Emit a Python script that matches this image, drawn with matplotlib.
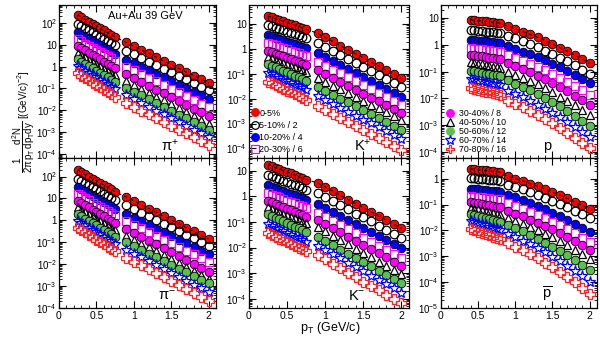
import numpy as np
import matplotlib
matplotlib.use('Agg')
import matplotlib.pyplot as plt
from matplotlib.ticker import LogLocator, FixedLocator, MultipleLocator, NullFormatter
from matplotlib.lines import Line2D

plt.rcParams['font.family'] = ['Liberation Sans', 'DejaVu Sans']
plt.rcParams['mathtext.fontset'] = 'custom'
plt.rcParams['mathtext.rm'] = 'Liberation Sans'
plt.rcParams['mathtext.it'] = 'Liberation Sans'
plt.rcParams['mathtext.bf'] = 'Liberation Sans:bold'

# pT bins (GeV/c)
pt_pik = [0.25, 0.30, 0.35, 0.40, 0.45, 0.50, 0.55, 0.60, 0.65, 0.70, 0.75,
          0.9, 1.0, 1.1, 1.2, 1.3, 1.4, 1.5, 1.6, 1.7, 1.8, 1.9, 2.0]
pt_p = [0.40, 0.45, 0.50, 0.55, 0.60, 0.65, 0.70, 0.75, 0.80,
        0.9, 1.0, 1.1, 1.2, 1.3, 1.4, 1.5, 1.6, 1.7, 1.8, 1.9, 2.0]

centralidades = ['0-5%', '5-10% / 2', '10-20% / 4', '20-30% / 6', '30-40% / 8',
                 '40-50% / 10', '50-60% / 12', '60-70% / 14', '70-80% / 16']

# log10 dos yields (linhas = centralidades)
pip = [
    [2.35, 2.25, 2.15, 2.05, 1.95, 1.85, 1.75, 1.65, 1.55, 1.45, 1.35, 1.10, 0.93, 0.76, 0.60, 0.43, 0.26, 0.09, -0.08, -0.25, -0.41, -0.58, -0.75],
    [1.95, 1.85, 1.75, 1.66, 1.56, 1.46, 1.36, 1.26, 1.17, 1.07, 0.97, 0.72, 0.56, 0.39, 0.23, 0.07, -0.10, -0.26, -0.43, -0.59, -0.75, -0.92, -1.08],
    [1.56, 1.46, 1.36, 1.27, 1.17, 1.07, 0.97, 0.87, 0.78, 0.68, 0.58, 0.32, 0.16, -0.01, -0.17, -0.33, -0.50, -0.66, -0.83, -0.99, -1.15, -1.32, -1.48],
    [1.25, 1.15, 1.05, 0.96, 0.86, 0.76, 0.66, 0.56, 0.47, 0.37, 0.27, 0.00, -0.17, -0.34, -0.51, -0.68, -0.85, -1.01, -1.18, -1.35, -1.52, -1.69, -1.86],
    [0.94, 0.84, 0.74, 0.63, 0.53, 0.43, 0.33, 0.23, 0.12, 0.02, -0.08, -0.34, -0.52, -0.69, -0.87, -1.05, -1.22, -1.40, -1.57, -1.75, -1.93, -2.10, -2.28],
    [0.62, 0.52, 0.42, 0.31, 0.21, 0.11, 0.01, -0.09, -0.20, -0.30, -0.40, -0.66, -0.84, -1.02, -1.19, -1.37, -1.55, -1.73, -1.91, -2.09, -2.26, -2.44, -2.62],
    [0.33, 0.23, 0.12, 0.02, -0.08, -0.19, -0.29, -0.39, -0.49, -0.60, -0.70, -0.97, -1.15, -1.32, -1.50, -1.67, -1.85, -2.02, -2.20, -2.37, -2.55, -2.72, -2.90],
    [0.02, -0.08, -0.19, -0.29, -0.40, -0.50, -0.60, -0.71, -0.81, -0.92, -1.02, -1.30, -1.48, -1.65, -1.83, -2.01, -2.18, -2.36, -2.53, -2.71, -2.89, -3.06, -3.24],
    [-0.31, -0.42, -0.52, -0.63, -0.73, -0.84, -0.95, -1.05, -1.16, -1.26, -1.37, -1.66, -1.83, -2.01, -2.18, -2.36, -2.53, -2.71, -2.88, -3.06, -3.23, -3.41, -3.58],
]
pim = [
    [2.30, 2.20, 2.10, 2.00, 1.90, 1.81, 1.71, 1.61, 1.51, 1.41, 1.31, 1.06, 0.89, 0.71, 0.54, 0.37, 0.19, 0.02, -0.16, -0.33, -0.50, -0.68, -0.85],
    [1.90, 1.80, 1.71, 1.61, 1.51, 1.42, 1.32, 1.22, 1.12, 1.03, 0.93, 0.68, 0.51, 0.35, 0.18, 0.01, -0.15, -0.32, -0.48, -0.65, -0.82, -0.98, -1.15],
    [1.51, 1.41, 1.32, 1.22, 1.12, 1.03, 0.93, 0.83, 0.73, 0.64, 0.54, 0.28, 0.11, -0.05, -0.22, -0.39, -0.55, -0.72, -0.88, -1.05, -1.22, -1.38, -1.55],
    [1.20, 1.10, 1.01, 0.91, 0.81, 0.72, 0.62, 0.52, 0.42, 0.33, 0.23, -0.04, -0.21, -0.37, -0.54, -0.71, -0.88, -1.04, -1.21, -1.38, -1.55, -1.71, -1.88],
    [0.90, 0.80, 0.70, 0.59, 0.49, 0.39, 0.29, 0.19, 0.08, -0.02, -0.12, -0.38, -0.56, -0.74, -0.92, -1.10, -1.28, -1.46, -1.64, -1.82, -2.00, -2.18, -2.36],
    [0.59, 0.49, 0.39, 0.28, 0.18, 0.08, -0.02, -0.12, -0.23, -0.33, -0.43, -0.70, -0.88, -1.06, -1.23, -1.41, -1.59, -1.77, -1.95, -2.13, -2.30, -2.48, -2.66],
    [0.29, 0.19, 0.08, -0.02, -0.12, -0.23, -0.33, -0.43, -0.53, -0.64, -0.74, -1.01, -1.18, -1.35, -1.52, -1.69, -1.86, -2.03, -2.20, -2.37, -2.54, -2.71, -2.88],
    [-0.01, -0.12, -0.22, -0.33, -0.43, -0.54, -0.64, -0.75, -0.85, -0.96, -1.06, -1.34, -1.52, -1.69, -1.87, -2.05, -2.22, -2.40, -2.57, -2.75, -2.93, -3.10, -3.28],
    [-0.34, -0.45, -0.55, -0.66, -0.77, -0.88, -0.98, -1.09, -1.20, -1.30, -1.41, -1.70, -1.88, -2.06, -2.23, -2.41, -2.59, -2.77, -2.95, -3.13, -3.30, -3.48, -3.66],
]
kp = [
    [1.33, 1.28, 1.22, 1.17, 1.12, 1.07, 1.01, 0.96, 0.91, 0.85, 0.80, 0.64, 0.47, 0.31, 0.14, -0.02, -0.19, -0.35, -0.52, -0.68, -0.85, -1.01, -1.18],
    [0.97, 0.92, 0.86, 0.81, 0.76, 0.71, 0.65, 0.60, 0.55, 0.49, 0.44, 0.26, 0.10, -0.06, -0.23, -0.39, -0.55, -0.71, -0.87, -1.03, -1.20, -1.36, -1.52],
    [0.57, 0.52, 0.46, 0.41, 0.35, 0.30, 0.25, 0.19, 0.14, 0.08, 0.03, -0.17, -0.33, -0.49, -0.65, -0.81, -0.97, -1.12, -1.28, -1.44, -1.60, -1.76, -1.92],
    [0.26, 0.21, 0.15, 0.10, 0.04, -0.01, -0.06, -0.12, -0.17, -0.23, -0.28, -0.51, -0.67, -0.83, -0.98, -1.14, -1.30, -1.46, -1.62, -1.78, -1.93, -2.09, -2.25],
    [-0.06, -0.12, -0.18, -0.23, -0.29, -0.35, -0.41, -0.47, -0.52, -0.58, -0.64, -0.84, -1.00, -1.16, -1.32, -1.48, -1.64, -1.79, -1.95, -2.11, -2.27, -2.43, -2.59],
    [-0.31, -0.37, -0.43, -0.49, -0.55, -0.61, -0.67, -0.73, -0.79, -0.85, -0.91, -1.16, -1.31, -1.47, -1.62, -1.77, -1.93, -2.08, -2.24, -2.39, -2.54, -2.70, -2.85],
    [-0.60, -0.67, -0.74, -0.80, -0.87, -0.94, -1.01, -1.08, -1.14, -1.21, -1.28, -1.52, -1.68, -1.84, -1.99, -2.15, -2.31, -2.47, -2.63, -2.79, -2.94, -3.10, -3.26],
    [-0.95, -1.02, -1.09, -1.16, -1.23, -1.30, -1.36, -1.43, -1.50, -1.57, -1.64, -1.90, -2.06, -2.21, -2.37, -2.53, -2.68, -2.84, -2.99, -3.15, -3.31, -3.46, -3.62],
    [-1.31, -1.38, -1.45, -1.53, -1.60, -1.67, -1.74, -1.81, -1.89, -1.96, -2.03, -2.29, -2.45, -2.61, -2.78, -2.94, -3.10, -3.26, -3.42, -3.58, -3.75, -3.91, -4.07],
]
km = [
    [1.25, 1.19, 1.13, 1.07, 1.01, 0.96, 0.90, 0.84, 0.78, 0.72, 0.66, 0.53, 0.37, 0.21, 0.04, -0.12, -0.28, -0.44, -0.60, -0.76, -0.93, -1.09, -1.25],
    [0.85, 0.79, 0.73, 0.68, 0.62, 0.56, 0.50, 0.44, 0.39, 0.33, 0.27, 0.13, -0.03, -0.19, -0.35, -0.51, -0.67, -0.82, -0.98, -1.14, -1.30, -1.46, -1.62],
    [0.43, 0.37, 0.32, 0.26, 0.21, 0.15, 0.09, 0.04, -0.02, -0.07, -0.13, -0.31, -0.47, -0.62, -0.78, -0.94, -1.09, -1.25, -1.40, -1.56, -1.72, -1.87, -2.03],
    [0.13, 0.07, 0.02, -0.04, -0.10, -0.16, -0.21, -0.27, -0.33, -0.38, -0.44, -0.66, -0.82, -0.98, -1.13, -1.29, -1.45, -1.61, -1.77, -1.93, -2.08, -2.24, -2.40],
    [-0.17, -0.23, -0.29, -0.36, -0.42, -0.48, -0.54, -0.60, -0.67, -0.73, -0.79, -0.92, -1.08, -1.25, -1.41, -1.57, -1.73, -1.90, -2.06, -2.22, -2.38, -2.55, -2.71],
    [-0.42, -0.48, -0.55, -0.61, -0.67, -0.74, -0.80, -0.86, -0.92, -0.99, -1.05, -1.20, -1.37, -1.54, -1.70, -1.87, -2.04, -2.21, -2.38, -2.55, -2.71, -2.88, -3.05],
    [-0.70, -0.77, -0.84, -0.90, -0.97, -1.04, -1.11, -1.18, -1.24, -1.31, -1.38, -1.58, -1.75, -1.91, -2.08, -2.24, -2.41, -2.57, -2.74, -2.90, -3.07, -3.23, -3.40],
    [-1.09, -1.16, -1.23, -1.29, -1.36, -1.43, -1.50, -1.57, -1.63, -1.70, -1.77, -1.92, -2.09, -2.26, -2.42, -2.59, -2.76, -2.93, -3.10, -3.27, -3.43, -3.60, -3.77],
    [-1.44, -1.51, -1.58, -1.65, -1.72, -1.79, -1.86, -1.93, -2.00, -2.07, -2.14, -2.29, -2.46, -2.64, -2.81, -2.98, -3.15, -3.33, -3.50, -3.67, -3.84, -4.02, -4.19],
]
pr = [
    [0.94, 0.92, 0.91, 0.89, 0.88, 0.86, 0.84, 0.83, 0.81, 0.69, 0.60, 0.50, 0.39, 0.28, 0.16, 0.03, -0.10, -0.24, -0.38, -0.53, -0.69],
    [0.56, 0.55, 0.53, 0.52, 0.50, 0.49, 0.47, 0.46, 0.44, 0.34, 0.24, 0.14, 0.03, -0.09, -0.21, -0.34, -0.48, -0.62, -0.77, -0.93, -1.09],
    [0.19, 0.17, 0.16, 0.14, 0.13, 0.11, 0.09, 0.08, 0.06, -0.06, -0.15, -0.25, -0.35, -0.46, -0.58, -0.70, -0.83, -0.97, -1.11, -1.26, -1.41],
    [-0.12, -0.14, -0.15, -0.17, -0.19, -0.20, -0.22, -0.23, -0.25, -0.38, -0.48, -0.59, -0.70, -0.83, -0.95, -1.09, -1.23, -1.38, -1.54, -1.70, -1.87],
    [-0.37, -0.39, -0.41, -0.43, -0.46, -0.48, -0.50, -0.52, -0.54, -0.68, -0.79, -0.90, -1.02, -1.15, -1.28, -1.43, -1.58, -1.73, -1.90, -2.07, -2.25],
    [-0.65, -0.68, -0.71, -0.73, -0.76, -0.79, -0.82, -0.84, -0.87, -1.00, -1.11, -1.23, -1.35, -1.48, -1.62, -1.77, -1.93, -2.09, -2.26, -2.44, -2.62],
    [-0.97, -0.99, -1.02, -1.04, -1.07, -1.09, -1.11, -1.14, -1.16, -1.33, -1.45, -1.57, -1.70, -1.84, -1.98, -2.14, -2.30, -2.47, -2.65, -2.84, -3.03],
    [-1.28, -1.31, -1.34, -1.36, -1.39, -1.42, -1.45, -1.47, -1.50, -1.72, -1.84, -1.96, -2.10, -2.24, -2.39, -2.55, -2.71, -2.89, -3.07, -3.26, -3.46],
    [-1.62, -1.65, -1.68, -1.71, -1.75, -1.78, -1.81, -1.84, -1.87, -2.08, -2.20, -2.33, -2.47, -2.61, -2.77, -2.93, -3.10, -3.28, -3.47, -3.67, -3.87],
]
pbar = [
    [0.38, 0.36, 0.35, 0.33, 0.32, 0.30, 0.28, 0.27, 0.25, 0.09, 0.00, -0.09, -0.19, -0.29, -0.40, -0.51, -0.64, -0.76, -0.90, -1.03, -1.18],
    [0.03, 0.02, 0.00, -0.01, -0.03, -0.04, -0.05, -0.07, -0.08, -0.23, -0.32, -0.41, -0.51, -0.62, -0.73, -0.85, -0.97, -1.10, -1.24, -1.38, -1.53],
    [-0.38, -0.40, -0.41, -0.43, -0.44, -0.46, -0.47, -0.49, -0.50, -0.62, -0.72, -0.82, -0.93, -1.05, -1.18, -1.31, -1.45, -1.59, -1.75, -1.90, -2.07],
    [-0.67, -0.69, -0.70, -0.72, -0.74, -0.75, -0.77, -0.78, -0.80, -0.95, -1.05, -1.16, -1.28, -1.40, -1.53, -1.66, -1.81, -1.96, -2.11, -2.28, -2.45],
    [-0.90, -0.93, -0.95, -0.98, -1.00, -1.03, -1.05, -1.08, -1.10, -1.25, -1.35, -1.46, -1.58, -1.70, -1.83, -1.96, -2.11, -2.26, -2.41, -2.58, -2.75],
    [-1.12, -1.16, -1.19, -1.23, -1.26, -1.30, -1.33, -1.37, -1.40, -1.52, -1.63, -1.74, -1.86, -1.99, -2.12, -2.27, -2.42, -2.57, -2.74, -2.91, -3.09],
    [-1.35, -1.39, -1.43, -1.47, -1.51, -1.54, -1.58, -1.62, -1.66, -1.80, -1.92, -2.04, -2.18, -2.32, -2.47, -2.63, -2.79, -2.97, -3.15, -3.34, -3.54],
    [-1.63, -1.67, -1.72, -1.76, -1.81, -1.85, -1.89, -1.94, -1.98, -2.14, -2.26, -2.40, -2.54, -2.69, -2.85, -3.01, -3.19, -3.37, -3.57, -3.77, -3.98],
    [-1.95, -2.00, -2.05, -2.09, -2.14, -2.19, -2.24, -2.28, -2.33, -2.50, -2.63, -2.77, -2.92, -3.08, -3.25, -3.43, -3.61, -3.81, -4.01, -4.23, -4.45],
]

# estilo de cada centralidade: (marker, cor da face, cor da borda)
estilos = [
    ('o', '#ff0000', 'black'),
    ('o', 'none', 'black'),
    ('o', '#0000ff', 'black'),
    ('s', 'none', '#ff00ff'),
    ('o', '#ff00ff', 'black'),
    ('^', 'none', 'black'),
    ('o', '#5cc04f', 'black'),
    ('*', 'none', '#0000ff'),
    ('P', 'none', '#ff2020'),
]

paineis = [
    (pt_pik, pip, r'$\pi^{+}$', (6.6e-5, 650), 0.71),
    (pt_pik, kp, r'K$^{+}$', (4.1e-5, 60), 0.71),
    (pt_p, pr, 'p', (5.9e-5, 31), 0.68),
    (pt_pik, pim, r'$\pi^{-}$', (1.0e-4, 700), 0.69),
    (pt_pik, km, r'K$^{-}$', (4.3e-5, 32), 0.67),
    (pt_p, pbar, r'$\overline{\rm p}$', (1.0e-5, 6.3), 0.68),
]

W, H = 600, 346
fig = plt.figure(figsize=(W / 100, H / 100), dpi=100)
colunas = [(59, 216), (249, 409), (441, 597)]
linhas = [(5, 158), (158, 308)]


def rotulo_log(e):
    if e == 0:
        return '1'
    if e == 1:
        return '10'
    return r'$10^{%d}$' % e


eixos = []
for i, (pt, dados, rotulo, ylim, xr) in enumerate(paineis):
    lin, col = divmod(i, 3)
    x0, x1 = colunas[col]
    y0, y1 = linhas[lin]
    ax = fig.add_axes([x0 / W, 1 - y1 / H, (x1 - x0) / W, (y1 - y0) / H])
    eixos.append(ax)
    for j, serie in enumerate(dados):
        m, fc, ec = estilos[j]
        ms = 6.2
        if m == '*':
            ms = 8.0
        elif m == 'P':
            ms = 7.2
        elif m == '^':
            ms = 6.4
        elif m == 's':
            ms = 5.8
        mew = 0.6 if fc != 'none' else 0.9
        ax.plot(pt, 10 ** np.array(serie), linestyle='none', marker=m, ms=ms,
                mfc=fc, mec=ec, mew=mew)
    # curva tracejada sobre 0-5%
    ax.plot(pt, 10 ** np.array(dados[0]), color='black', lw=0.8, dashes=(3, 3), zorder=5)

    ax.set_yscale('log')
    ax.set_xlim(0, 2.1)
    ax.set_ylim(*ylim)
    # decadas visiveis
    e_min = int(np.ceil(np.log10(ylim[0]) - 1e-9))
    e_max = int(np.floor(np.log10(ylim[1]) + 1e-9))
    decadas = list(range(e_min, e_max + 1))
    ax.set_yticks([10.0 ** e for e in decadas])
    ax.set_yticklabels([rotulo_log(e) for e in decadas])
    ax.yaxis.set_minor_locator(LogLocator(base=10, subs=np.arange(2, 10), numticks=20))
    ax.yaxis.set_minor_formatter(NullFormatter())
    ax.xaxis.set_minor_locator(MultipleLocator(0.1))
    ax.tick_params(which='both', direction='in', top=True, right=True, labelsize=7, pad=1.5)
    ax.tick_params(which='major', length=5, width=0.8)
    ax.tick_params(which='minor', length=2.5, width=0.6)
    ax.set_xticks([0, 0.5, 1, 1.5, 2])
    if lin == 0:
        ax.tick_params(labelbottom=False)
    else:
        ax.set_xticklabels(['0', '0.5', '1', '1.5', '2'])
        ax.tick_params(axis='x', labelsize=7.5, pad=2)
    for s in ax.spines.values():
        s.set_linewidth(0.9)
    ax.text(xr, 0.03, rotulo, transform=ax.transAxes, ha='center', va='bottom', fontsize=10.5)

eixos[0].text(0.55, 0.93, 'Au+Au 39 GeV', transform=eixos[0].transAxes,
              ha='center', va='center', fontsize=8)

# legendas
def handle(j, ms=5.5):
    m, fc, ec = estilos[j]
    if fc != 'none':
        ec = fc
    return Line2D([], [], linestyle='none', marker=m, ms=ms if m != '*' else ms + 2,
                  mfc=fc, mec=ec, mew=0.9)


leg1 = eixos[1].legend([handle(j) for j in range(4)], centralidades[:4],
                       loc='lower left', bbox_to_anchor=(-0.02, -0.01), frameon=False,
                       fontsize=6.5, handlelength=0.8, handletextpad=0.1,
                       labelspacing=0.35, borderaxespad=0.2)
leg2 = eixos[2].legend([handle(j) for j in range(4, 9)], centralidades[4:],
                       loc='lower left', bbox_to_anchor=(-0.01, -0.01), frameon=False,
                       fontsize=6.3, handlelength=1.2, handletextpad=0.4,
                       labelspacing=0.0, borderaxespad=0.2)

fig.text(0.04, 0.648,
         r'$\dfrac{1}{2\pi\,p_{T}}\dfrac{d^{2}N}{dp_{T}dy}$ [(GeV/c)$^{-2}$]',
         rotation=90, ha='center', va='center', fontsize=7)
fig.text(0.55, 0.052, r'p$_{T}$ (GeV/c)', ha='center', va='center', fontsize=9)

fig.savefig('out.png', dpi=100)
